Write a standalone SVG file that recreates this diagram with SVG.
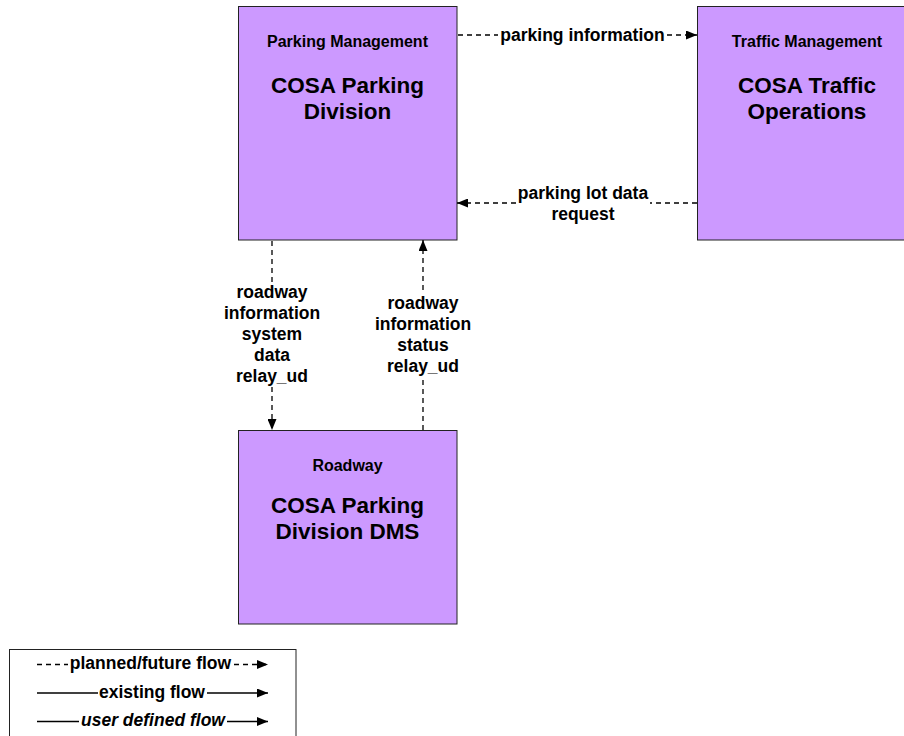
<svg xmlns="http://www.w3.org/2000/svg" width="904" height="736" viewBox="0 0 904 736">
<style>
.box{fill:#CC99FF;stroke:#222;stroke-width:1}
.t{font-family:"Liberation Sans",Arial,sans-serif;font-weight:bold;fill:#000;text-anchor:middle}
.sub{font-size:16px}
.ttl{font-size:22.5px}
.lbl{font-size:17.5px}
.dash{stroke:#000;stroke-width:1.3;stroke-dasharray:5,4;fill:none}
.solid{stroke:#000;stroke-width:1.3;fill:none}
</style>
<defs>
<marker id="ah" viewBox="0 0 11 9" refX="11" refY="4.5" markerWidth="11" markerHeight="9" markerUnits="userSpaceOnUse" orient="auto">
<path d="M0,0 L11,4.5 L0,9 Z" fill="#000"/>
</marker>
</defs>
<rect width="904" height="736" fill="#fff"/>
<g id="node-parking">
<rect class="box" x="238.5" y="6.5" width="218.5" height="233.5"/>
<text class="t sub" x="347.5" y="47">Parking Management</text>
<text class="t ttl" x="347.5" y="93">COSA Parking</text>
<text class="t ttl" x="347.5" y="119">Division</text>
</g>
<g id="node-traffic">
<rect class="box" x="697.5" y="6.5" width="219" height="233.5"/>
<text class="t sub" x="807" y="47">Traffic Management</text>
<text class="t ttl" x="807" y="93">COSA Traffic</text>
<text class="t ttl" x="807" y="119">Operations</text>
</g>
<g id="node-dms">
<rect class="box" x="238.5" y="430.5" width="218.5" height="193.5"/>
<text class="t sub" x="347.5" y="471">Roadway</text>
<text class="t ttl" x="347.5" y="513">COSA Parking</text>
<text class="t ttl" x="347.5" y="539">Division DMS</text>
</g>
<g id="connectors">
<line class="dash" x1="458" y1="35" x2="498" y2="35"/>
<line class="dash" x1="667" y1="35" x2="697" y2="35" marker-end="url(#ah)"/>
<text class="t lbl" x="582.5" y="41">parking information</text>
<line class="dash" x1="697" y1="203" x2="650" y2="203"/>
<line class="dash" x1="516" y1="203" x2="457" y2="203" marker-end="url(#ah)"/>
<text class="t lbl" x="583" y="199">parking lot data</text>
<text class="t lbl" x="583" y="220">request</text>
<line class="dash" x1="272" y1="241" x2="272" y2="282"/>
<line class="dash" x1="272" y1="387" x2="272" y2="430" marker-end="url(#ah)"/>
<text class="t lbl" x="272" y="298">roadway</text>
<text class="t lbl" x="272" y="319">information</text>
<text class="t lbl" x="272" y="340">system</text>
<text class="t lbl" x="272" y="361">data</text>
<text class="t lbl" x="272" y="382">relay_ud</text>
<line class="dash" x1="423" y1="430" x2="423" y2="378"/>
<line class="dash" x1="423" y1="290" x2="423" y2="240" marker-end="url(#ah)"/>
<text class="t lbl" x="423" y="309">roadway</text>
<text class="t lbl" x="423" y="330">information</text>
<text class="t lbl" x="423" y="351">status</text>
<text class="t lbl" x="423" y="372">relay_ud</text>
</g>
<g id="legend">
<rect x="9.5" y="649.5" width="286.5" height="100" fill="#fff" stroke="#222" stroke-width="1"/>
<line class="dash" x1="37" y1="664.5" x2="68" y2="664.5"/>
<text class="t lbl" x="150.5" y="669">planned/future flow</text>
<line class="dash" x1="234" y1="664.5" x2="268" y2="664.5" marker-end="url(#ah)"/>
<line class="solid" x1="37" y1="693" x2="98" y2="693"/>
<text class="t lbl" x="152" y="698">existing flow</text>
<line class="solid" x1="207" y1="693" x2="268" y2="693" marker-end="url(#ah)"/>
<line class="solid" x1="37" y1="721.5" x2="79" y2="721.5"/>
<text class="t lbl" x="153" y="726" font-style="italic">user defined flow</text>
<line class="solid" x1="227" y1="721.5" x2="268" y2="721.5" marker-end="url(#ah)"/>
</g>
</svg>
